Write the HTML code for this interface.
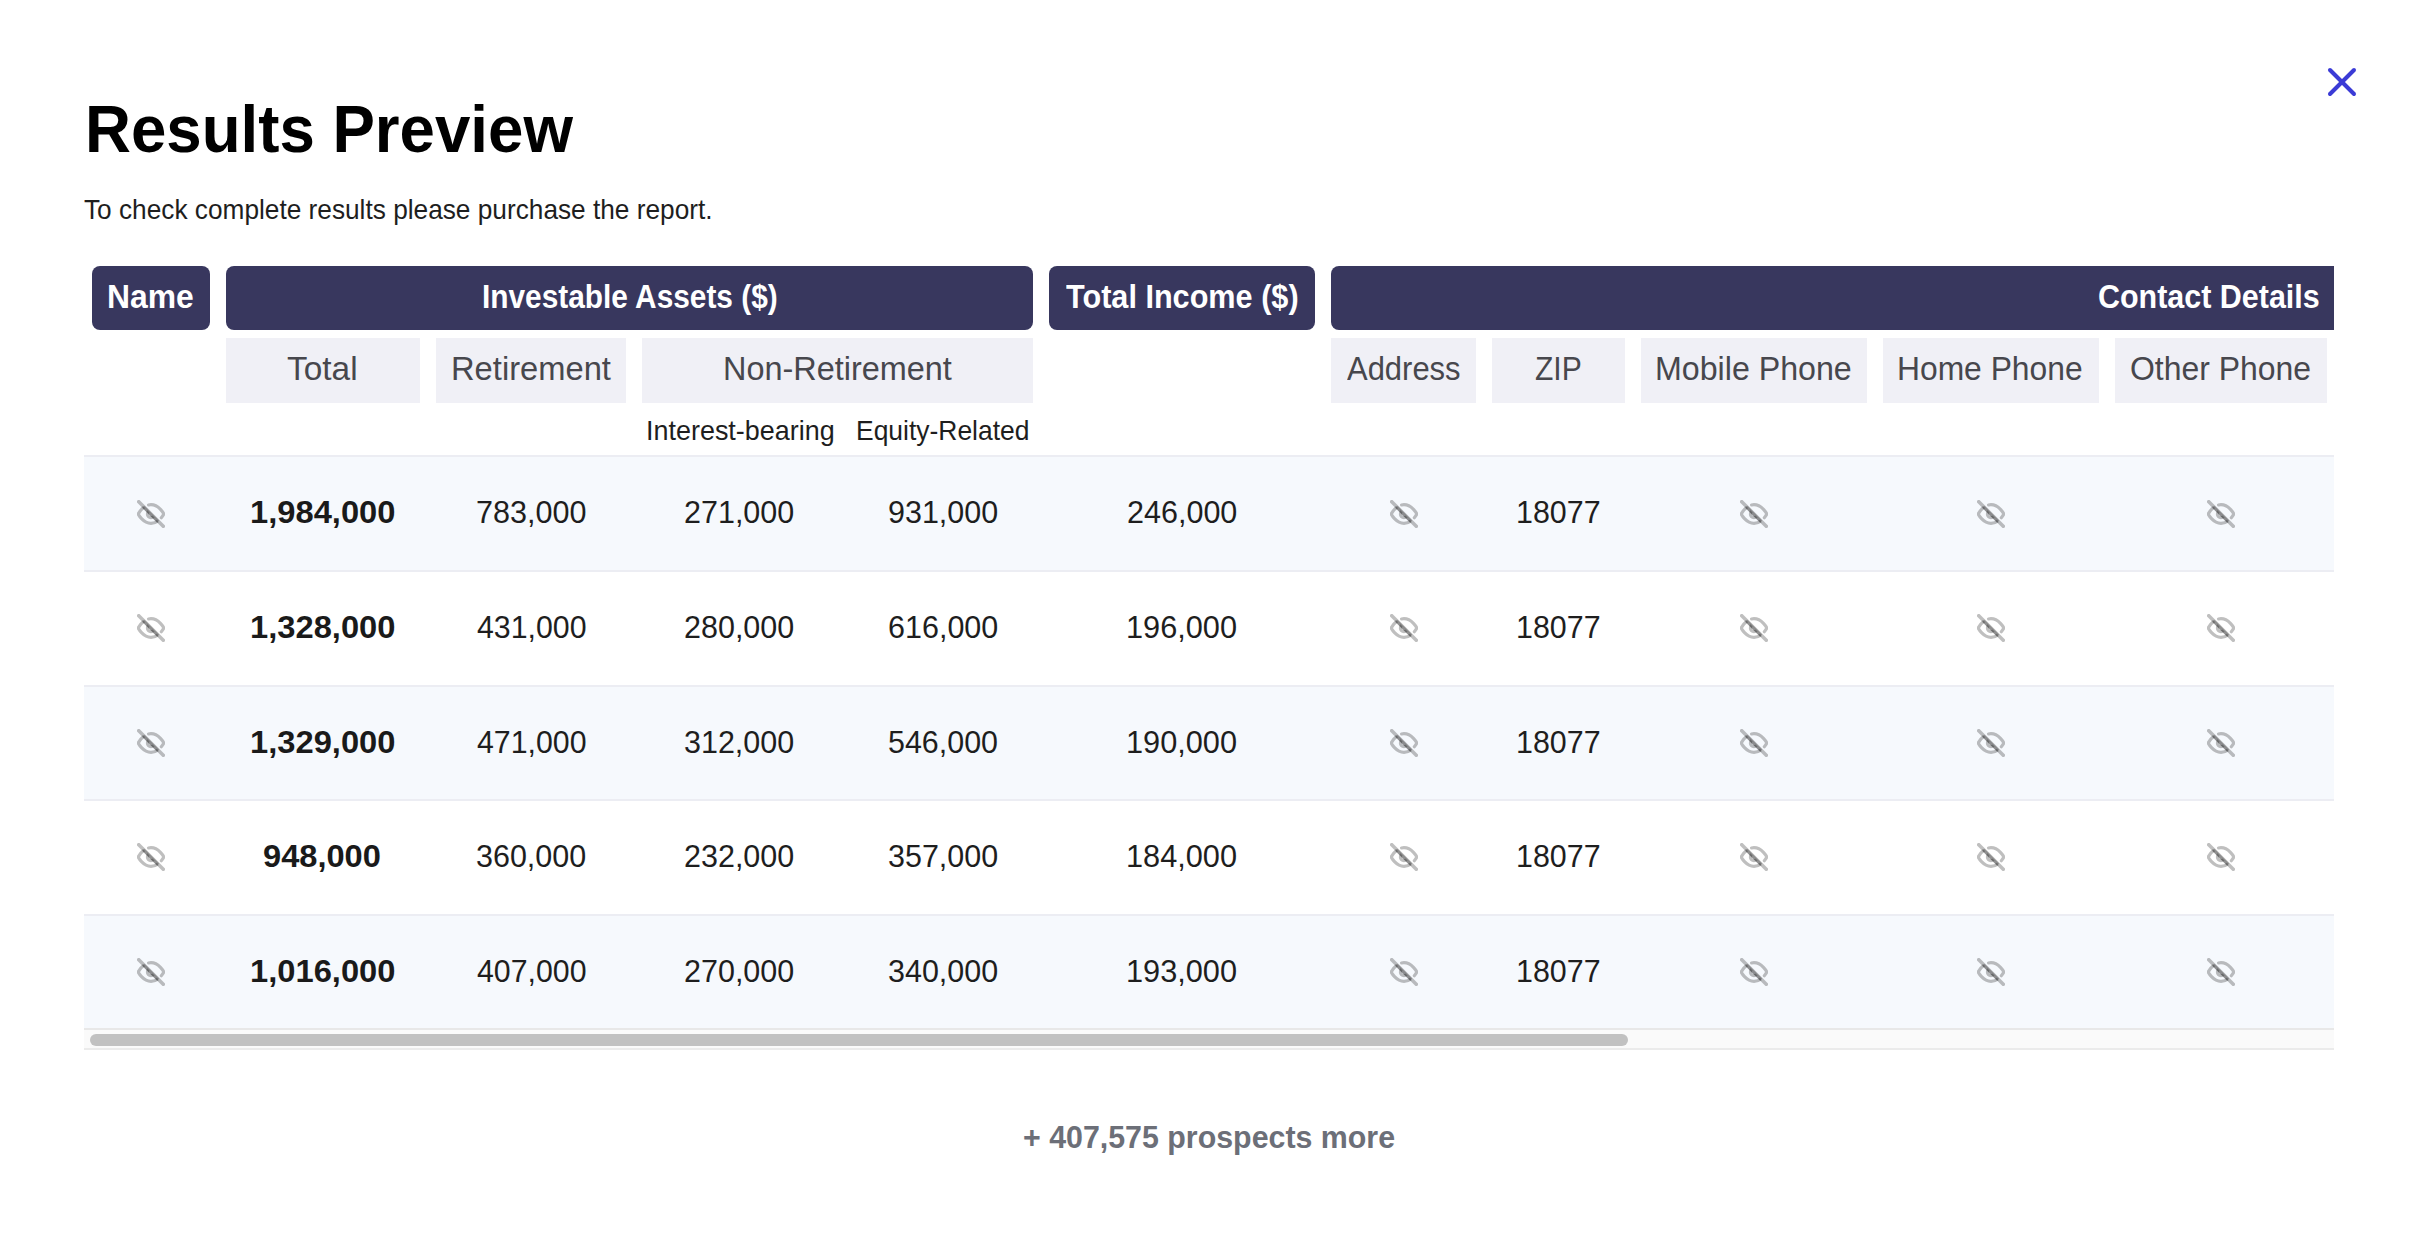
<!DOCTYPE html>
<html lang="en"><head><meta charset="utf-8"><title>Results Preview</title>
<style>
html,body{margin:0;padding:0;background:#fff;}
body{width:2426px;height:1248px;position:relative;overflow:hidden;font-family:"Liberation Sans",sans-serif;}
.t{position:absolute;white-space:nowrap;line-height:1;transform-origin:0 0;display:block;}
.abs,.eye{position:absolute;display:block;}
.clip{position:absolute;left:84px;top:266px;width:2250px;height:784px;overflow:hidden;}
.dk{position:absolute;background:#38375e;border-radius:8px;}
.lt{position:absolute;background:#f0f0f6;}
.row{position:absolute;left:0;width:2250px;border-top:2px solid #ecedf3;}
.sb{position:absolute;left:0;width:2250px;height:18px;background:#fafafa;border-top:2px solid #e8e8e8;border-bottom:2px solid #ebebeb;}
.thumb{position:absolute;left:6px;top:4px;width:1538px;height:12px;border-radius:6px;background:#c1c1c1;}
</style></head>
<body>
<svg class="abs" style="left:2318px;top:58px" width="48" height="48" viewBox="0 0 24 24" fill="none" stroke="#3b3bd6" stroke-width="2" stroke-linecap="round" stroke-linejoin="round"><line x1="18" y1="6" x2="6" y2="18"/><line x1="6" y1="6" x2="18" y2="18"/></svg>
<div class="clip">
<div class="dk" style="left:8px;top:0px;width:118px;height:64px;"></div>
<div class="dk" style="left:142px;top:0px;width:807px;height:64px;"></div>
<div class="dk" style="left:965px;top:0px;width:266px;height:64px;"></div>
<div class="dk" style="left:1247px;top:0px;width:1936px;height:64px;"></div>
<div class="lt" style="left:142px;top:72px;width:194px;height:65px;"></div>
<div class="lt" style="left:352px;top:72px;width:190px;height:65px;"></div>
<div class="lt" style="left:558px;top:72px;width:391px;height:65px;"></div>
<div class="lt" style="left:1247px;top:72px;width:145px;height:65px;"></div>
<div class="lt" style="left:1408px;top:72px;width:133px;height:65px;"></div>
<div class="lt" style="left:1557px;top:72px;width:226px;height:65px;"></div>
<div class="lt" style="left:1799px;top:72px;width:216px;height:65px;"></div>
<div class="lt" style="left:2031px;top:72px;width:212px;height:65px;"></div>
<div class="row" style="top:189px;height:113px;background:#f6f9fd"></div>
<div class="row" style="top:304px;height:113px;background:#fff"></div>
<div class="row" style="top:419px;height:112px;background:#f6f9fd"></div>
<div class="row" style="top:533px;height:113px;background:#fff"></div>
<div class="row" style="top:648px;height:112px;background:#f6f9fd"></div>
<div class="sb" style="top:762px"><div class="thumb"></div></div>
</div>
<svg class="eye" style="left:136.8px;top:499.9px" viewBox="0 0 24 24" width="28" height="28" fill="none" stroke="rgba(0,0,0,0.25)" stroke-width="2.7" stroke-linejoin="round"><path d="M17.94 17.94A10.07 10.07 0 0 1 12 20c-7 0-11-8-11-8a18.45 18.45 0 0 1 5.06-5.94"/><path stroke-linecap="round" d="M9.9 4.24A9.12 9.12 0 0 1 12 4c7 0 11 8 11 8a18.5 18.5 0 0 1-2.16 3.19"/><path d="M14.12 14.12a3 3 0 1 1-4.24-4.24"/><line stroke-width="3" x1="0.4" y1="0.4" x2="23.6" y2="23.6"/><line stroke-width="2.6" x1="5.5" y1="5.9" x2="18.1" y2="18.5"/></svg>
<svg class="eye" style="left:1389.8px;top:499.9px" viewBox="0 0 24 24" width="28" height="28" fill="none" stroke="rgba(0,0,0,0.25)" stroke-width="2.7" stroke-linejoin="round"><path d="M17.94 17.94A10.07 10.07 0 0 1 12 20c-7 0-11-8-11-8a18.45 18.45 0 0 1 5.06-5.94"/><path stroke-linecap="round" d="M9.9 4.24A9.12 9.12 0 0 1 12 4c7 0 11 8 11 8a18.5 18.5 0 0 1-2.16 3.19"/><path d="M14.12 14.12a3 3 0 1 1-4.24-4.24"/><line stroke-width="3" x1="0.4" y1="0.4" x2="23.6" y2="23.6"/><line stroke-width="2.6" x1="5.5" y1="5.9" x2="18.1" y2="18.5"/></svg>
<svg class="eye" style="left:1739.8px;top:499.9px" viewBox="0 0 24 24" width="28" height="28" fill="none" stroke="rgba(0,0,0,0.25)" stroke-width="2.7" stroke-linejoin="round"><path d="M17.94 17.94A10.07 10.07 0 0 1 12 20c-7 0-11-8-11-8a18.45 18.45 0 0 1 5.06-5.94"/><path stroke-linecap="round" d="M9.9 4.24A9.12 9.12 0 0 1 12 4c7 0 11 8 11 8a18.5 18.5 0 0 1-2.16 3.19"/><path d="M14.12 14.12a3 3 0 1 1-4.24-4.24"/><line stroke-width="3" x1="0.4" y1="0.4" x2="23.6" y2="23.6"/><line stroke-width="2.6" x1="5.5" y1="5.9" x2="18.1" y2="18.5"/></svg>
<svg class="eye" style="left:1977px;top:499.9px" viewBox="0 0 24 24" width="28" height="28" fill="none" stroke="rgba(0,0,0,0.25)" stroke-width="2.7" stroke-linejoin="round"><path d="M17.94 17.94A10.07 10.07 0 0 1 12 20c-7 0-11-8-11-8a18.45 18.45 0 0 1 5.06-5.94"/><path stroke-linecap="round" d="M9.9 4.24A9.12 9.12 0 0 1 12 4c7 0 11 8 11 8a18.5 18.5 0 0 1-2.16 3.19"/><path d="M14.12 14.12a3 3 0 1 1-4.24-4.24"/><line stroke-width="3" x1="0.4" y1="0.4" x2="23.6" y2="23.6"/><line stroke-width="2.6" x1="5.5" y1="5.9" x2="18.1" y2="18.5"/></svg>
<svg class="eye" style="left:2206.8px;top:499.9px" viewBox="0 0 24 24" width="28" height="28" fill="none" stroke="rgba(0,0,0,0.25)" stroke-width="2.7" stroke-linejoin="round"><path d="M17.94 17.94A10.07 10.07 0 0 1 12 20c-7 0-11-8-11-8a18.45 18.45 0 0 1 5.06-5.94"/><path stroke-linecap="round" d="M9.9 4.24A9.12 9.12 0 0 1 12 4c7 0 11 8 11 8a18.5 18.5 0 0 1-2.16 3.19"/><path d="M14.12 14.12a3 3 0 1 1-4.24-4.24"/><line stroke-width="3" x1="0.4" y1="0.4" x2="23.6" y2="23.6"/><line stroke-width="2.6" x1="5.5" y1="5.9" x2="18.1" y2="18.5"/></svg>
<svg class="eye" style="left:136.8px;top:614.4px" viewBox="0 0 24 24" width="28" height="28" fill="none" stroke="rgba(0,0,0,0.25)" stroke-width="2.7" stroke-linejoin="round"><path d="M17.94 17.94A10.07 10.07 0 0 1 12 20c-7 0-11-8-11-8a18.45 18.45 0 0 1 5.06-5.94"/><path stroke-linecap="round" d="M9.9 4.24A9.12 9.12 0 0 1 12 4c7 0 11 8 11 8a18.5 18.5 0 0 1-2.16 3.19"/><path d="M14.12 14.12a3 3 0 1 1-4.24-4.24"/><line stroke-width="3" x1="0.4" y1="0.4" x2="23.6" y2="23.6"/><line stroke-width="2.6" x1="5.5" y1="5.9" x2="18.1" y2="18.5"/></svg>
<svg class="eye" style="left:1389.8px;top:614.4px" viewBox="0 0 24 24" width="28" height="28" fill="none" stroke="rgba(0,0,0,0.25)" stroke-width="2.7" stroke-linejoin="round"><path d="M17.94 17.94A10.07 10.07 0 0 1 12 20c-7 0-11-8-11-8a18.45 18.45 0 0 1 5.06-5.94"/><path stroke-linecap="round" d="M9.9 4.24A9.12 9.12 0 0 1 12 4c7 0 11 8 11 8a18.5 18.5 0 0 1-2.16 3.19"/><path d="M14.12 14.12a3 3 0 1 1-4.24-4.24"/><line stroke-width="3" x1="0.4" y1="0.4" x2="23.6" y2="23.6"/><line stroke-width="2.6" x1="5.5" y1="5.9" x2="18.1" y2="18.5"/></svg>
<svg class="eye" style="left:1739.8px;top:614.4px" viewBox="0 0 24 24" width="28" height="28" fill="none" stroke="rgba(0,0,0,0.25)" stroke-width="2.7" stroke-linejoin="round"><path d="M17.94 17.94A10.07 10.07 0 0 1 12 20c-7 0-11-8-11-8a18.45 18.45 0 0 1 5.06-5.94"/><path stroke-linecap="round" d="M9.9 4.24A9.12 9.12 0 0 1 12 4c7 0 11 8 11 8a18.5 18.5 0 0 1-2.16 3.19"/><path d="M14.12 14.12a3 3 0 1 1-4.24-4.24"/><line stroke-width="3" x1="0.4" y1="0.4" x2="23.6" y2="23.6"/><line stroke-width="2.6" x1="5.5" y1="5.9" x2="18.1" y2="18.5"/></svg>
<svg class="eye" style="left:1977px;top:614.4px" viewBox="0 0 24 24" width="28" height="28" fill="none" stroke="rgba(0,0,0,0.25)" stroke-width="2.7" stroke-linejoin="round"><path d="M17.94 17.94A10.07 10.07 0 0 1 12 20c-7 0-11-8-11-8a18.45 18.45 0 0 1 5.06-5.94"/><path stroke-linecap="round" d="M9.9 4.24A9.12 9.12 0 0 1 12 4c7 0 11 8 11 8a18.5 18.5 0 0 1-2.16 3.19"/><path d="M14.12 14.12a3 3 0 1 1-4.24-4.24"/><line stroke-width="3" x1="0.4" y1="0.4" x2="23.6" y2="23.6"/><line stroke-width="2.6" x1="5.5" y1="5.9" x2="18.1" y2="18.5"/></svg>
<svg class="eye" style="left:2206.8px;top:614.4px" viewBox="0 0 24 24" width="28" height="28" fill="none" stroke="rgba(0,0,0,0.25)" stroke-width="2.7" stroke-linejoin="round"><path d="M17.94 17.94A10.07 10.07 0 0 1 12 20c-7 0-11-8-11-8a18.45 18.45 0 0 1 5.06-5.94"/><path stroke-linecap="round" d="M9.9 4.24A9.12 9.12 0 0 1 12 4c7 0 11 8 11 8a18.5 18.5 0 0 1-2.16 3.19"/><path d="M14.12 14.12a3 3 0 1 1-4.24-4.24"/><line stroke-width="3" x1="0.4" y1="0.4" x2="23.6" y2="23.6"/><line stroke-width="2.6" x1="5.5" y1="5.9" x2="18.1" y2="18.5"/></svg>
<svg class="eye" style="left:136.8px;top:728.8px" viewBox="0 0 24 24" width="28" height="28" fill="none" stroke="rgba(0,0,0,0.25)" stroke-width="2.7" stroke-linejoin="round"><path d="M17.94 17.94A10.07 10.07 0 0 1 12 20c-7 0-11-8-11-8a18.45 18.45 0 0 1 5.06-5.94"/><path stroke-linecap="round" d="M9.9 4.24A9.12 9.12 0 0 1 12 4c7 0 11 8 11 8a18.5 18.5 0 0 1-2.16 3.19"/><path d="M14.12 14.12a3 3 0 1 1-4.24-4.24"/><line stroke-width="3" x1="0.4" y1="0.4" x2="23.6" y2="23.6"/><line stroke-width="2.6" x1="5.5" y1="5.9" x2="18.1" y2="18.5"/></svg>
<svg class="eye" style="left:1389.8px;top:728.8px" viewBox="0 0 24 24" width="28" height="28" fill="none" stroke="rgba(0,0,0,0.25)" stroke-width="2.7" stroke-linejoin="round"><path d="M17.94 17.94A10.07 10.07 0 0 1 12 20c-7 0-11-8-11-8a18.45 18.45 0 0 1 5.06-5.94"/><path stroke-linecap="round" d="M9.9 4.24A9.12 9.12 0 0 1 12 4c7 0 11 8 11 8a18.5 18.5 0 0 1-2.16 3.19"/><path d="M14.12 14.12a3 3 0 1 1-4.24-4.24"/><line stroke-width="3" x1="0.4" y1="0.4" x2="23.6" y2="23.6"/><line stroke-width="2.6" x1="5.5" y1="5.9" x2="18.1" y2="18.5"/></svg>
<svg class="eye" style="left:1739.8px;top:728.8px" viewBox="0 0 24 24" width="28" height="28" fill="none" stroke="rgba(0,0,0,0.25)" stroke-width="2.7" stroke-linejoin="round"><path d="M17.94 17.94A10.07 10.07 0 0 1 12 20c-7 0-11-8-11-8a18.45 18.45 0 0 1 5.06-5.94"/><path stroke-linecap="round" d="M9.9 4.24A9.12 9.12 0 0 1 12 4c7 0 11 8 11 8a18.5 18.5 0 0 1-2.16 3.19"/><path d="M14.12 14.12a3 3 0 1 1-4.24-4.24"/><line stroke-width="3" x1="0.4" y1="0.4" x2="23.6" y2="23.6"/><line stroke-width="2.6" x1="5.5" y1="5.9" x2="18.1" y2="18.5"/></svg>
<svg class="eye" style="left:1977px;top:728.8px" viewBox="0 0 24 24" width="28" height="28" fill="none" stroke="rgba(0,0,0,0.25)" stroke-width="2.7" stroke-linejoin="round"><path d="M17.94 17.94A10.07 10.07 0 0 1 12 20c-7 0-11-8-11-8a18.45 18.45 0 0 1 5.06-5.94"/><path stroke-linecap="round" d="M9.9 4.24A9.12 9.12 0 0 1 12 4c7 0 11 8 11 8a18.5 18.5 0 0 1-2.16 3.19"/><path d="M14.12 14.12a3 3 0 1 1-4.24-4.24"/><line stroke-width="3" x1="0.4" y1="0.4" x2="23.6" y2="23.6"/><line stroke-width="2.6" x1="5.5" y1="5.9" x2="18.1" y2="18.5"/></svg>
<svg class="eye" style="left:2206.8px;top:728.8px" viewBox="0 0 24 24" width="28" height="28" fill="none" stroke="rgba(0,0,0,0.25)" stroke-width="2.7" stroke-linejoin="round"><path d="M17.94 17.94A10.07 10.07 0 0 1 12 20c-7 0-11-8-11-8a18.45 18.45 0 0 1 5.06-5.94"/><path stroke-linecap="round" d="M9.9 4.24A9.12 9.12 0 0 1 12 4c7 0 11 8 11 8a18.5 18.5 0 0 1-2.16 3.19"/><path d="M14.12 14.12a3 3 0 1 1-4.24-4.24"/><line stroke-width="3" x1="0.4" y1="0.4" x2="23.6" y2="23.6"/><line stroke-width="2.6" x1="5.5" y1="5.9" x2="18.1" y2="18.5"/></svg>
<svg class="eye" style="left:136.8px;top:843.3px" viewBox="0 0 24 24" width="28" height="28" fill="none" stroke="rgba(0,0,0,0.25)" stroke-width="2.7" stroke-linejoin="round"><path d="M17.94 17.94A10.07 10.07 0 0 1 12 20c-7 0-11-8-11-8a18.45 18.45 0 0 1 5.06-5.94"/><path stroke-linecap="round" d="M9.9 4.24A9.12 9.12 0 0 1 12 4c7 0 11 8 11 8a18.5 18.5 0 0 1-2.16 3.19"/><path d="M14.12 14.12a3 3 0 1 1-4.24-4.24"/><line stroke-width="3" x1="0.4" y1="0.4" x2="23.6" y2="23.6"/><line stroke-width="2.6" x1="5.5" y1="5.9" x2="18.1" y2="18.5"/></svg>
<svg class="eye" style="left:1389.8px;top:843.3px" viewBox="0 0 24 24" width="28" height="28" fill="none" stroke="rgba(0,0,0,0.25)" stroke-width="2.7" stroke-linejoin="round"><path d="M17.94 17.94A10.07 10.07 0 0 1 12 20c-7 0-11-8-11-8a18.45 18.45 0 0 1 5.06-5.94"/><path stroke-linecap="round" d="M9.9 4.24A9.12 9.12 0 0 1 12 4c7 0 11 8 11 8a18.5 18.5 0 0 1-2.16 3.19"/><path d="M14.12 14.12a3 3 0 1 1-4.24-4.24"/><line stroke-width="3" x1="0.4" y1="0.4" x2="23.6" y2="23.6"/><line stroke-width="2.6" x1="5.5" y1="5.9" x2="18.1" y2="18.5"/></svg>
<svg class="eye" style="left:1739.8px;top:843.3px" viewBox="0 0 24 24" width="28" height="28" fill="none" stroke="rgba(0,0,0,0.25)" stroke-width="2.7" stroke-linejoin="round"><path d="M17.94 17.94A10.07 10.07 0 0 1 12 20c-7 0-11-8-11-8a18.45 18.45 0 0 1 5.06-5.94"/><path stroke-linecap="round" d="M9.9 4.24A9.12 9.12 0 0 1 12 4c7 0 11 8 11 8a18.5 18.5 0 0 1-2.16 3.19"/><path d="M14.12 14.12a3 3 0 1 1-4.24-4.24"/><line stroke-width="3" x1="0.4" y1="0.4" x2="23.6" y2="23.6"/><line stroke-width="2.6" x1="5.5" y1="5.9" x2="18.1" y2="18.5"/></svg>
<svg class="eye" style="left:1977px;top:843.3px" viewBox="0 0 24 24" width="28" height="28" fill="none" stroke="rgba(0,0,0,0.25)" stroke-width="2.7" stroke-linejoin="round"><path d="M17.94 17.94A10.07 10.07 0 0 1 12 20c-7 0-11-8-11-8a18.45 18.45 0 0 1 5.06-5.94"/><path stroke-linecap="round" d="M9.9 4.24A9.12 9.12 0 0 1 12 4c7 0 11 8 11 8a18.5 18.5 0 0 1-2.16 3.19"/><path d="M14.12 14.12a3 3 0 1 1-4.24-4.24"/><line stroke-width="3" x1="0.4" y1="0.4" x2="23.6" y2="23.6"/><line stroke-width="2.6" x1="5.5" y1="5.9" x2="18.1" y2="18.5"/></svg>
<svg class="eye" style="left:2206.8px;top:843.3px" viewBox="0 0 24 24" width="28" height="28" fill="none" stroke="rgba(0,0,0,0.25)" stroke-width="2.7" stroke-linejoin="round"><path d="M17.94 17.94A10.07 10.07 0 0 1 12 20c-7 0-11-8-11-8a18.45 18.45 0 0 1 5.06-5.94"/><path stroke-linecap="round" d="M9.9 4.24A9.12 9.12 0 0 1 12 4c7 0 11 8 11 8a18.5 18.5 0 0 1-2.16 3.19"/><path d="M14.12 14.12a3 3 0 1 1-4.24-4.24"/><line stroke-width="3" x1="0.4" y1="0.4" x2="23.6" y2="23.6"/><line stroke-width="2.6" x1="5.5" y1="5.9" x2="18.1" y2="18.5"/></svg>
<svg class="eye" style="left:136.8px;top:957.8px" viewBox="0 0 24 24" width="28" height="28" fill="none" stroke="rgba(0,0,0,0.25)" stroke-width="2.7" stroke-linejoin="round"><path d="M17.94 17.94A10.07 10.07 0 0 1 12 20c-7 0-11-8-11-8a18.45 18.45 0 0 1 5.06-5.94"/><path stroke-linecap="round" d="M9.9 4.24A9.12 9.12 0 0 1 12 4c7 0 11 8 11 8a18.5 18.5 0 0 1-2.16 3.19"/><path d="M14.12 14.12a3 3 0 1 1-4.24-4.24"/><line stroke-width="3" x1="0.4" y1="0.4" x2="23.6" y2="23.6"/><line stroke-width="2.6" x1="5.5" y1="5.9" x2="18.1" y2="18.5"/></svg>
<svg class="eye" style="left:1389.8px;top:957.8px" viewBox="0 0 24 24" width="28" height="28" fill="none" stroke="rgba(0,0,0,0.25)" stroke-width="2.7" stroke-linejoin="round"><path d="M17.94 17.94A10.07 10.07 0 0 1 12 20c-7 0-11-8-11-8a18.45 18.45 0 0 1 5.06-5.94"/><path stroke-linecap="round" d="M9.9 4.24A9.12 9.12 0 0 1 12 4c7 0 11 8 11 8a18.5 18.5 0 0 1-2.16 3.19"/><path d="M14.12 14.12a3 3 0 1 1-4.24-4.24"/><line stroke-width="3" x1="0.4" y1="0.4" x2="23.6" y2="23.6"/><line stroke-width="2.6" x1="5.5" y1="5.9" x2="18.1" y2="18.5"/></svg>
<svg class="eye" style="left:1739.8px;top:957.8px" viewBox="0 0 24 24" width="28" height="28" fill="none" stroke="rgba(0,0,0,0.25)" stroke-width="2.7" stroke-linejoin="round"><path d="M17.94 17.94A10.07 10.07 0 0 1 12 20c-7 0-11-8-11-8a18.45 18.45 0 0 1 5.06-5.94"/><path stroke-linecap="round" d="M9.9 4.24A9.12 9.12 0 0 1 12 4c7 0 11 8 11 8a18.5 18.5 0 0 1-2.16 3.19"/><path d="M14.12 14.12a3 3 0 1 1-4.24-4.24"/><line stroke-width="3" x1="0.4" y1="0.4" x2="23.6" y2="23.6"/><line stroke-width="2.6" x1="5.5" y1="5.9" x2="18.1" y2="18.5"/></svg>
<svg class="eye" style="left:1977px;top:957.8px" viewBox="0 0 24 24" width="28" height="28" fill="none" stroke="rgba(0,0,0,0.25)" stroke-width="2.7" stroke-linejoin="round"><path d="M17.94 17.94A10.07 10.07 0 0 1 12 20c-7 0-11-8-11-8a18.45 18.45 0 0 1 5.06-5.94"/><path stroke-linecap="round" d="M9.9 4.24A9.12 9.12 0 0 1 12 4c7 0 11 8 11 8a18.5 18.5 0 0 1-2.16 3.19"/><path d="M14.12 14.12a3 3 0 1 1-4.24-4.24"/><line stroke-width="3" x1="0.4" y1="0.4" x2="23.6" y2="23.6"/><line stroke-width="2.6" x1="5.5" y1="5.9" x2="18.1" y2="18.5"/></svg>
<svg class="eye" style="left:2206.8px;top:957.8px" viewBox="0 0 24 24" width="28" height="28" fill="none" stroke="rgba(0,0,0,0.25)" stroke-width="2.7" stroke-linejoin="round"><path d="M17.94 17.94A10.07 10.07 0 0 1 12 20c-7 0-11-8-11-8a18.45 18.45 0 0 1 5.06-5.94"/><path stroke-linecap="round" d="M9.9 4.24A9.12 9.12 0 0 1 12 4c7 0 11 8 11 8a18.5 18.5 0 0 1-2.16 3.19"/><path d="M14.12 14.12a3 3 0 1 1-4.24-4.24"/><line stroke-width="3" x1="0.4" y1="0.4" x2="23.6" y2="23.6"/><line stroke-width="2.6" x1="5.5" y1="5.9" x2="18.1" y2="18.5"/></svg>
<span class="t" style="left:84.54px;top:95.62px;font-size:66.23px;font-weight:700;color:#000;transform:scaleX(0.9605)">Results Preview</span>
<span class="t" style="left:84.10px;top:196.12px;font-size:27.43px;font-weight:400;color:#1e1e1e;transform:scaleX(0.9568)">To check complete results please purchase the report.</span>
<span class="t" style="left:106.72px;top:279.75px;font-size:33.01px;font-weight:700;color:#fff;transform:scaleX(0.9646)">Name</span>
<span class="t" style="left:481.63px;top:279.75px;font-size:33.01px;font-weight:700;color:#fff;transform:scaleX(0.9040)">Investable Assets ($)</span>
<span class="t" style="left:1065.98px;top:279.75px;font-size:33.01px;font-weight:700;color:#fff;transform:scaleX(0.9282)">Total Income ($)</span>
<span class="t" style="left:2097.94px;top:279.75px;font-size:33.01px;font-weight:700;color:#fff;transform:scaleX(0.9229)">Contact Details</span>
<span class="t" style="left:287.47px;top:352.87px;font-size:32.39px;font-weight:400;color:#47474d;transform:scaleX(1.0323)">Total</span>
<span class="t" style="left:450.73px;top:352.87px;font-size:32.39px;font-weight:400;color:#47474d;transform:scaleX(1.0102)">Retirement</span>
<span class="t" style="left:722.83px;top:352.87px;font-size:32.39px;font-weight:400;color:#47474d;transform:scaleX(1.0015)">Non-Retirement</span>
<span class="t" style="left:1347.44px;top:352.87px;font-size:32.39px;font-weight:400;color:#47474d;transform:scaleX(0.9562)">Address</span>
<span class="t" style="left:1534.97px;top:352.87px;font-size:32.39px;font-weight:400;color:#47474d;transform:scaleX(0.9290)">ZIP</span>
<span class="t" style="left:1654.64px;top:352.87px;font-size:32.39px;font-weight:400;color:#47474d;transform:scaleX(0.9937)">Mobile Phone</span>
<span class="t" style="left:1897.42px;top:352.87px;font-size:32.39px;font-weight:400;color:#47474d;transform:scaleX(0.9820)">Home Phone</span>
<span class="t" style="left:2130.27px;top:352.87px;font-size:32.41px;font-weight:400;color:#47474d;transform:scaleX(0.9857)">Other Phone</span>
<span class="t" style="left:646.16px;top:416.86px;font-size:27.33px;font-weight:400;color:#1e1e1e;transform:scaleX(0.9856)">Interest-bearing</span>
<span class="t" style="left:855.81px;top:416.86px;font-size:27.33px;font-weight:400;color:#1e1e1e;transform:scaleX(0.9676)">Equity-Related</span>
<span class="t" style="left:249.52px;top:496.00px;font-size:32.00px;font-weight:700;color:#1a1a1a;transform:scaleX(1.0219)">1,984,000</span>
<span class="t" style="left:476.28px;top:496.00px;font-size:32.00px;font-weight:400;color:#1e1e1e;transform:scaleX(0.9547)">783,000</span>
<span class="t" style="left:683.50px;top:496.00px;font-size:32.01px;font-weight:400;color:#1e1e1e;transform:scaleX(0.9533)">271,000</span>
<span class="t" style="left:887.83px;top:495.97px;font-size:32.04px;font-weight:400;color:#1e1e1e;transform:scaleX(0.9510)">931,000</span>
<span class="t" style="left:1126.67px;top:495.97px;font-size:32.04px;font-weight:400;color:#1e1e1e;transform:scaleX(0.9529)">246,000</span>
<span class="t" style="left:1516.06px;top:496.00px;font-size:32.00px;font-weight:400;color:#1e1e1e;transform:scaleX(0.9504)">18077</span>
<span class="t" style="left:249.52px;top:611.00px;font-size:32.00px;font-weight:700;color:#1a1a1a;transform:scaleX(1.0219)">1,328,000</span>
<span class="t" style="left:476.55px;top:611.03px;font-size:32.00px;font-weight:400;color:#1e1e1e;transform:scaleX(0.9472)">431,000</span>
<span class="t" style="left:683.50px;top:611.00px;font-size:32.01px;font-weight:400;color:#1e1e1e;transform:scaleX(0.9533)">280,000</span>
<span class="t" style="left:888.14px;top:611.04px;font-size:32.04px;font-weight:400;color:#1e1e1e;transform:scaleX(0.9525)">616,000</span>
<span class="t" style="left:1125.78px;top:611.00px;font-size:32.00px;font-weight:400;color:#1e1e1e;transform:scaleX(0.9598)">196,000</span>
<span class="t" style="left:1516.06px;top:611.00px;font-size:32.00px;font-weight:400;color:#1e1e1e;transform:scaleX(0.9504)">18077</span>
<span class="t" style="left:249.52px;top:726.00px;font-size:32.00px;font-weight:700;color:#1a1a1a;transform:scaleX(1.0219)">1,329,000</span>
<span class="t" style="left:476.55px;top:726.03px;font-size:32.00px;font-weight:400;color:#1e1e1e;transform:scaleX(0.9472)">471,000</span>
<span class="t" style="left:684.48px;top:725.99px;font-size:32.02px;font-weight:400;color:#1e1e1e;transform:scaleX(0.9523)">312,000</span>
<span class="t" style="left:888.13px;top:726.00px;font-size:32.00px;font-weight:400;color:#1e1e1e;transform:scaleX(0.9513)">546,000</span>
<span class="t" style="left:1125.78px;top:726.00px;font-size:32.00px;font-weight:400;color:#1e1e1e;transform:scaleX(0.9598)">190,000</span>
<span class="t" style="left:1516.06px;top:726.00px;font-size:32.00px;font-weight:400;color:#1e1e1e;transform:scaleX(0.9504)">18077</span>
<span class="t" style="left:263.08px;top:839.98px;font-size:32.03px;font-weight:700;color:#1a1a1a;transform:scaleX(1.0188)">948,000</span>
<span class="t" style="left:476.48px;top:839.99px;font-size:32.02px;font-weight:400;color:#1e1e1e;transform:scaleX(0.9523)">360,000</span>
<span class="t" style="left:683.50px;top:840.00px;font-size:32.01px;font-weight:400;color:#1e1e1e;transform:scaleX(0.9533)">232,000</span>
<span class="t" style="left:888.35px;top:840.00px;font-size:32.01px;font-weight:400;color:#1e1e1e;transform:scaleX(0.9521)">357,000</span>
<span class="t" style="left:1125.78px;top:840.00px;font-size:32.00px;font-weight:400;color:#1e1e1e;transform:scaleX(0.9598)">184,000</span>
<span class="t" style="left:1516.06px;top:840.00px;font-size:32.00px;font-weight:400;color:#1e1e1e;transform:scaleX(0.9504)">18077</span>
<span class="t" style="left:249.52px;top:955.00px;font-size:32.00px;font-weight:700;color:#1a1a1a;transform:scaleX(1.0219)">1,016,000</span>
<span class="t" style="left:476.55px;top:955.03px;font-size:32.00px;font-weight:400;color:#1e1e1e;transform:scaleX(0.9472)">407,000</span>
<span class="t" style="left:683.50px;top:955.00px;font-size:32.01px;font-weight:400;color:#1e1e1e;transform:scaleX(0.9533)">270,000</span>
<span class="t" style="left:888.35px;top:955.00px;font-size:32.01px;font-weight:400;color:#1e1e1e;transform:scaleX(0.9521)">340,000</span>
<span class="t" style="left:1125.78px;top:955.00px;font-size:32.00px;font-weight:400;color:#1e1e1e;transform:scaleX(0.9598)">193,000</span>
<span class="t" style="left:1516.06px;top:955.00px;font-size:32.00px;font-weight:400;color:#1e1e1e;transform:scaleX(0.9504)">18077</span>
<span class="t" style="left:1022.85px;top:1122.88px;font-size:30.73px;font-weight:700;color:#6c6f78;transform:scaleX(0.9881)">+ 407,575 prospects more</span>
</body></html>
